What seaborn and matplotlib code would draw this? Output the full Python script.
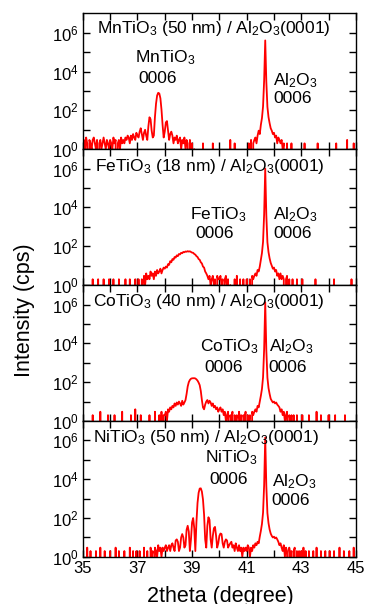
import numpy as np
import pandas as pd
import matplotlib
matplotlib.use("Agg")
import matplotlib.pyplot as plt
import seaborn as sns
from matplotlib.ticker import FixedLocator, NullFormatter

# XRD 2theta scans, 35.00 -> 44.96 deg, step 0.04 (one row below = 1 degree)
two_theta = np.round(35 + 0.04 * np.arange(250), 2)

mn_counts = [
    2, 3, 1, 4, 2, 0, 3, 2, 1, 3, 4, 2, 1, 3, 0, 2, 3, 1, 2, 4, 2, 1, 3, 2, 1,
    3, 2, 1, 4, 2, 3, 0, 2, 3, 1, 4, 2, 3, 2, 4, 3, 5, 4, 2, 5, 3, 6, 4, 3, 7,
    5, 4, 8, 12, 6, 3, 7, 10, 5, 3, 15, 44, 35, 9, 4, 5, 45, 220, 580, 800, 740, 420, 110, 18, 4,
    8, 24, 28, 9, 3, 6, 8, 5, 2, 4, 3, 5, 2, 3, 4, 1, 3, 2, 4, 1, 3, 2, 0, 3, 1,
    2, 0, 1, 0, 0, 0, 0, 0, 0, 0, 2, 0, 0, 0, 0, 0, 0, 0, 0, 2, 0, 0, 0, 0, 0,
    0, 0, 0, 0, 0, 0, 0, 0, 0, 0, 3, 0, 0, 0, 2, 0, 0, 0, 0, 0, 0, 0, 0, 0, 0,
    0, 0, 2, 0, 3, 0, 2, 3, 4, 2, 5, 9, 6, 18, 40, 160, 3500, 400000, 3000, 150, 45, 22, 12, 9, 6,
    7, 4, 5, 2, 4, 3, 2, 3, 1, 2, 0, 0, 2, 0, 0, 0, 2, 0, 0, 0, 0, 0, 0, 0, 0,
    0, 0, 0, 2, 0, 0, 0, 0, 0, 0, 0, 0, 0, 0, 0, 2, 0, 0, 0, 0, 0, 0, 0, 0, 0,
    0, 0, 0, 0, 0, 0, 0, 2, 0, 0, 0, 0, 0, 0, 0, 0, 0, 3, 0, 0, 0, 0, 0, 2, 0,
]

fe_counts = [
    0, 0, 0, 0, 0, 0, 0, 0, 0, 2, 0, 0, 0, 0, 2, 0, 0, 0, 0, 2, 0, 0, 0, 0, 2,
    0, 0, 0, 2, 0, 0, 0, 0, 2, 0, 0, 0, 0, 0, 2, 0, 0, 0, 2, 0, 0, 0, 0, 2, 0,
    0, 2, 0, 0, 2, 0, 3, 1, 4, 2, 3, 2, 5, 3, 4, 2, 5, 3, 6, 4, 5, 7, 4, 6, 8,
    7, 9, 8, 12, 11, 17, 15, 22, 20, 28, 26, 34, 31, 40, 38, 46, 44, 51, 49, 54, 52, 56, 53, 55, 51,
    47, 46, 40, 37, 31, 28, 22, 20, 15, 13, 9, 8, 5, 4, 3, 2, 3, 1, 2, 3, 1, 2, 0, 3, 2,
    2, 3, 1, 2, 0, 2, 3, 1, 2, 0, 1, 0, 0, 0, 2, 0, 3, 0, 0, 2, 0, 0, 2, 0, 0,
    2, 0, 0, 2, 0, 3, 2, 3, 4, 3, 6, 5, 9, 20, 45, 170, 4500, 1000000, 4000, 160, 50, 24, 14, 10, 7,
    8, 5, 6, 3, 4, 2, 4, 2, 3, 2, 0, 2, 3, 0, 2, 0, 0, 2, 0, 0, 0, 2, 0, 0, 0,
    0, 2, 0, 0, 0, 0, 0, 0, 0, 0, 0, 0, 0, 2, 0, 0, 0, 0, 0, 0, 0, 0, 0, 0, 0,
    0, 0, 0, 0, 0, 2, 0, 0, 0, 0, 0, 0, 0, 0, 0, 0, 0, 0, 0, 0, 0, 2, 0, 0, 0,
]

co_counts = [
    0, 0, 0, 0, 0, 0, 0, 0, 0, 2, 0, 0, 0, 0, 0, 0, 3, 0, 0, 0, 0, 0, 0, 2, 0,
    0, 0, 0, 0, 2, 0, 0, 0, 0, 0, 0, 3, 0, 0, 0, 0, 0, 0, 0, 2, 0, 0, 0, 4, 0,
    0, 0, 0, 2, 0, 0, 0, 0, 0, 0, 0, 2, 0, 0, 0, 0, 3, 0, 0, 0, 2, 0, 3, 0, 2,
    2, 3, 1, 4, 3, 5, 4, 6, 5, 8, 6, 9, 7, 10, 8, 6, 11, 7, 9, 12, 25, 60, 100, 130, 150,
    158, 160, 160, 155, 140, 120, 95, 70, 35, 12, 5, 4, 7, 10, 12, 8, 11, 9, 6, 8, 5, 6, 4, 5, 3,
    4, 5, 3, 4, 2, 3, 1, 2, 3, 0, 2, 1, 3, 0, 2, 1, 2, 0, 3, 1, 2, 0, 2, 1, 3,
    0, 2, 1, 2, 0, 3, 2, 3, 4, 3, 6, 5, 10, 20, 45, 180, 5000, 1300000, 4500, 170, 50, 25, 14, 11, 9,
    10, 8, 9, 7, 6, 5, 3, 4, 2, 3, 1, 2, 3, 0, 2, 1, 2, 0, 2, 0, 0, 2, 0, 0, 0,
    0, 2, 0, 0, 0, 0, 0, 2, 0, 0, 0, 0, 0, 0, 3, 0, 0, 0, 2, 0, 0, 0, 0, 0, 0,
    2, 0, 0, 0, 0, 0, 2, 0, 0, 0, 0, 0, 0, 0, 0, 2, 0, 0, 0, 0, 0, 0, 0, 0, 0,
]

ni_counts = [
    2, 0, 0, 0, 3, 0, 0, 2, 0, 0, 0, 0, 2, 0, 0, 0, 3, 0, 0, 0, 2, 0, 0, 0, 0,
    2, 0, 0, 0, 0, 3, 0, 0, 2, 0, 0, 0, 0, 2, 0, 0, 0, 0, 3, 0, 0, 2, 0, 0, 2,
    0, 0, 2, 0, 0, 0, 3, 0, 0, 2, 0, 0, 3, 1, 2, 0, 3, 2, 1, 4, 2, 3, 1, 3, 2,
    3, 4, 2, 3, 4, 2, 4, 5, 3, 2, 7, 8, 6, 2, 3, 10, 15, 10, 3, 4, 25, 40, 20, 2, 8,
    60, 100, 30, 2, 60, 600, 2000, 3300, 3400, 2300, 900, 150, 8, 3, 40, 110, 80, 8, 3, 12, 30, 35, 12, 3, 5,
    12, 16, 15, 5, 3, 6, 8, 7, 3, 4, 5, 6, 3, 4, 2, 5, 3, 2, 4, 2, 3, 1, 3, 2, 3,
    2, 4, 3, 1, 3, 2, 4, 3, 5, 4, 6, 5, 11, 22, 50, 190, 5000, 1400000, 4500, 180, 55, 26, 16, 12, 10,
    11, 9, 10, 8, 6, 4, 5, 3, 2, 4, 1, 3, 2, 0, 3, 1, 2, 0, 2, 3, 0, 2, 1, 2, 0,
    2, 0, 3, 0, 2, 0, 0, 2, 0, 0, 0, 2, 0, 0, 3, 0, 0, 0, 2, 0, 0, 0, 2, 0, 0,
    0, 2, 0, 0, 0, 2, 0, 0, 0, 0, 3, 0, 0, 0, 2, 0, 0, 0, 0, 2, 0, 0, 0, 3, 0,
]

samples = ["MnTiO3", "FeTiO3", "CoTiO3", "NiTiO3"]
titles = ["MnTiO$_3$ (50 nm) / Al$_2$O$_3$(0001)",
          "FeTiO$_3$ (18 nm) / Al$_2$O$_3$(0001)",
          "CoTiO$_3$ (40 nm) / Al$_2$O$_3$(0001)",
          "NiTiO$_3$ (50 nm) / Al$_2$O$_3$(0001)"]
film_labels = ["MnTiO$_3$", "FeTiO$_3$", "CoTiO$_3$", "NiTiO$_3$"]

df = pd.concat([
    pd.DataFrame({"two_theta": two_theta, "counts": c, "sample": s})
    for s, c in zip(samples, [mn_counts, fe_counts, co_counts, ni_counts])
])

sns.set_style("ticks")
plt.rcParams["font.family"] = ["Liberation Sans", "DejaVu Sans"]
plt.rcParams["mathtext.fontset"] = "custom"
plt.rcParams["mathtext.rm"] = "Liberation Sans"
plt.rcParams["mathtext.it"] = "Liberation Sans:italic"
plt.rcParams["mathtext.default"] = "regular"
plt.rcParams["axes.edgecolor"] = "black"
plt.rcParams["text.color"] = "black"
plt.rcParams["xtick.color"] = "black"
plt.rcParams["ytick.color"] = "black"
plt.rcParams["xtick.labelcolor"] = "black"
plt.rcParams["ytick.labelcolor"] = "black"

fig, axes = plt.subplots(4, 1, figsize=(3.65, 6.04), dpi=100, sharex=True,
                         gridspec_kw=dict(hspace=0))
fig.subplots_adjust(left=0.227, right=0.975, bottom=0.078, top=0.978)

# text positions: x in data units, y in axes fraction (baseline)
title_pos = [(35.51, 0.854), (35.44, 0.838), (35.37, 0.846), (35.37, 0.844)]
film_pos = [(36.90, 0.642, 37.05, 0.489), (38.93, 0.485, 39.11, 0.346),
            (39.30, 0.515, 39.45, 0.36), (39.48, 0.696, 39.63, 0.533)]
al_pos = [(41.96, 0.467, 0.343), (41.96, 0.485, 0.346),
          (41.81, 0.515, 0.36), (41.92, 0.519, 0.385)]

for i, ax in enumerate(axes):
    sub = df[df["sample"] == samples[i]]
    sns.lineplot(data=sub, x="two_theta", y="counts", color="#ff0000",
                 lw=1.3, estimator=None, ax=ax, legend=False)
    ax.set_yscale("log")
    ax.set_ylim(1, 1e7)
    ax.set_xlim(35, 45)
    ax.yaxis.set_major_locator(FixedLocator([1, 1e2, 1e4, 1e6]))
    ax.yaxis.set_minor_locator(FixedLocator([10, 1e3, 1e5]))
    ax.yaxis.set_minor_formatter(NullFormatter())
    ax.xaxis.set_major_locator(FixedLocator([35, 37, 39, 41, 43, 45]))
    ax.xaxis.set_minor_locator(FixedLocator([36, 38, 40, 42, 44]))
    ax.tick_params(which="both", direction="in", top=True, right=True,
                   length=5, width=1, labelsize=12, pad=3)
    for sp in ax.spines.values():
        sp.set_linewidth(1)
    ax.set_xlabel("")
    ax.set_ylabel("")

    tr = ax.get_xaxis_transform()
    ax.text(title_pos[i][0], title_pos[i][1], titles[i], transform=tr,
            fontsize=12.5, va="baseline")
    fx, fy1, zx, fy2 = film_pos[i]
    ax.text(fx, fy1, film_labels[i], transform=tr, fontsize=12.5, va="baseline")
    ax.text(zx, fy2, "0006", transform=tr, fontsize=12.5, va="baseline")
    ax.text(al_pos[i][0], al_pos[i][1], "Al$_2$O$_3$", transform=tr,
            fontsize=12.5, va="baseline")
    ax.text(al_pos[i][0], al_pos[i][2], "0006", transform=tr,
            fontsize=12.5, va="baseline")

fig.text(0.066, 0.487, "Intensity (cps)", rotation=90, fontsize=15.5,
         ha="center", va="center")
fig.text(0.603, 0.004, "2theta (degree)", fontsize=15.5,
         ha="center", va="baseline")

fig.savefig("out.png", dpi=100)
